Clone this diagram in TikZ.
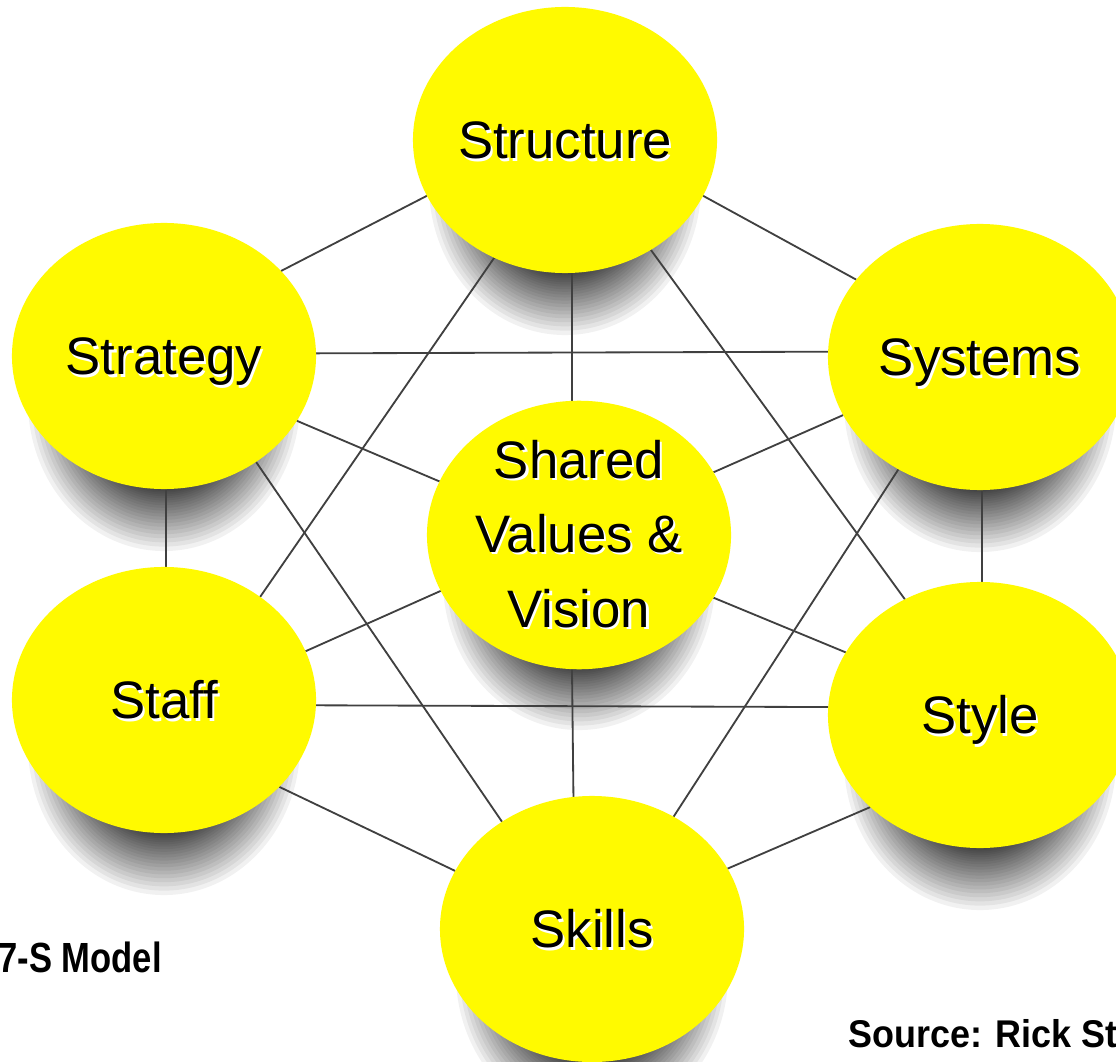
\documentclass[tikz,border=0pt]{standalone}
\usepackage{fontspec}
\setmainfont{Liberation Sans}
\newfontfamily\narrowfont[FakeStretch=0.82]{Liberation Sans}
\newfontfamily\notefont[FakeStretch=0.93]{Liberation Sans}
\usetikzlibrary{shapes.geometric}

\definecolor{bubbleyellow}{RGB}{255,250,0}
\definecolor{linkgray}{RGB}{64,64,64}

\pgfdeclarelayer{shadows}
\pgfdeclarelayer{links}
\pgfsetlayers{shadows,links,main}

% black text with a white copy behind it
\newcommand\raised[1]{\makebox[0pt][l]{\hspace{1.5pt}\raisebox{-1.5pt}{\textcolor{white}{#1}}}#1}

\tikzset{
  bubble/.style={ellipse, fill=bubbleyellow, inner sep=0pt, outer sep=0pt,
    minimum width=7.6cm, minimum height=6.65cm,
    font=\fontsize{37.5}{53}\selectfont},
  oneline/.style={text height=27pt, text depth=0pt},
  link/.style={draw=linkgray, line width=1.3pt},
  haze/.style={fill=black, opacity=0.055},
}

\begin{document}
\begin{tikzpicture}[x=0.025cm, y=-0.025cm]
	\clip (0,0) rectangle (1116,1062);

	% the seven bubbles
	\node[bubble, oneline] (structure) at (565,140) {\raised{Structure}};
	\node[bubble, oneline] (strategy) at (164,356) {\raised{Strategy}};
	\node[bubble, oneline] (systems) at (980,357) {\raised{Systems}};
	\node[bubble, align=center] (shared) at (579,535)
		{\raised{Shared}\\\raised{Values \&}\\\raised{Vision}};
	\node[bubble, oneline] (staff) at (164,700) {\raised{Staff}};
	\node[bubble, oneline] (style) at (980,715) {\raised{Style}};
	\node[bubble, oneline] (skills) at (592,929) {\raised{Skills}};

	% soft drop shadows, built from stacked see-through ellipses
	\begin{pgfonlayer}{shadows}
		\fill[white] (0,0) rectangle (1116,1062);
		\foreach \s in {structure,strategy,systems,shared,staff,style,skills}
			\foreach \k in {0,...,30}
				\fill[haze] ([yshift=-1.125cm]\s.center)
					ellipse [x radius={3.4cm*(0.55+0.45*(1-\k/30)*(1-\k/30))},
						y radius={3.75cm*(0.55+0.45*(1-\k/30)*(1-\k/30))}];
	\end{pgfonlayer}

	% every bubble linked to its neighbours
	\begin{pgfonlayer}{links}
		\foreach \a/\p/\b/\q in {
				structure/202/strategy/36, structure/338/systems/148,
				structure/273/shared/93, structure/239/staff/47,
				structure/308/style/123, strategy/1/systems/178,
				strategy/334/shared/159, strategy/271/staff/89,
				strategy/311/skills/130, systems/203/shared/25,
				systems/271/style/89, systems/234/skills/54,
				shared/202/staff/19, shared/335/style/155,
				shared/267/skills/98, staff/358/style/177,
				staff/323/skills/157, style/220/skills/24}
			\draw[link] (\a.\p) -- (\b.\q);
	\end{pgfonlayer}

	\node[anchor=base west, inner sep=0pt,
		font=\fontsize{30}{36}\selectfont\narrowfont\bfseries] (modelname) at (-2,972) {7-S Model};
	\node[anchor=base west, inner sep=0pt,
		font=\fontsize{27.5}{33}\selectfont\notefont\bfseries] (source) at (848,1047) {Source: Rick St};
\end{tikzpicture}
\end{document}
